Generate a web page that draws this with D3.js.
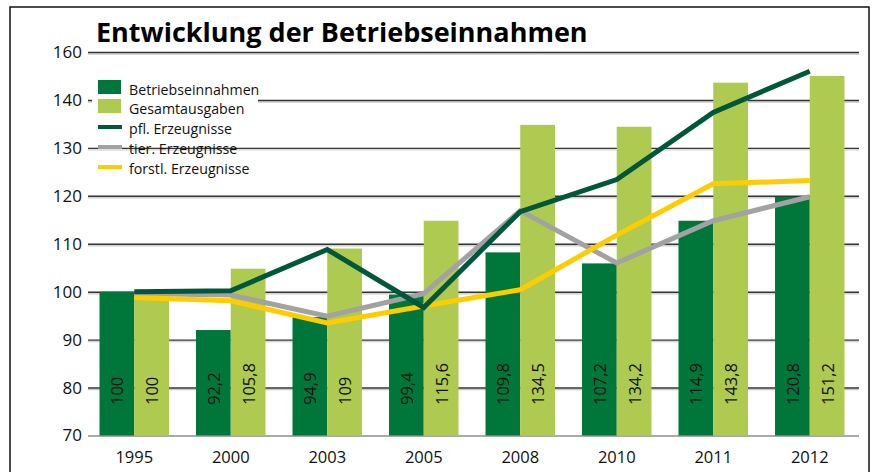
<!DOCTYPE html>
<html>
<head>
<meta charset="utf-8">
<script src="https://cdn.jsdelivr.net/npm/d3@7"></script>
<style>
  body { margin: 0; background: #fff; }
  svg { display: block; font-family: "Open Sans", sans-serif; }
</style>
</head>
<body>
<svg width="874" height="472"></svg>
<script>
// years on the x axis
var years = ['1995', '2000', '2003', '2005', '2008', '2010', '2011', '2012'];

// bar heights as drawn in the picture
var betriebseinnahmen = [100, 92, 94.7, 99.4, 108.2, 105.9, 114.8, 119.8];
var gesamtausgaben = [100, 104.8, 109, 114.8, 134.8, 134.4, 143.6, 145];

// printed labels inside the bars
var labelsEin = ['100', '92,2', '94,9', '99,4', '109,8', '107,2', '114,9', '120,8'];
var labelsAus = ['100', '105,8', '109', '115,6', '134,5', '134,2', '143,8', '151,2'];

// line series
var pflErzeugnisse = [100, 100.2, 108.8, 96.7, 116.7, 123.4, 137.4, 146];
var tierErzeugnisse = [99.6, 99.3, 94.9, 99.6, 116.9, 106, 114.8, 119.8];
var forstlErzeugnisse = [98.8, 98.1, 93.5, 97, 100.4, 111.8, 122.5, 123.2];

// y axis ticks (top label reads 160 in the original)
var yTicks = [70, 80, 90, 100, 110, 120, 130, 140, 150];
var yTickLabels = ['70', '80', '90', '100', '110', '120', '130', '140', '160'];

var colors = {
    ein: '#00773a',
    aus: '#afca50',
    pfl: '#00573a',
    tier: '#a2a2a2',
    forstl: '#ffcc00'
};

var svg = d3.select('svg');

// frame
svg.append('rect')
    .attr('x', 10).attr('y', 7)
    .attr('width', 859).attr('height', 500)
    .attr('fill', 'none')
    .attr('stroke', '#111')
    .attr('stroke-width', 1.5);

var xScale = d3.scaleBand()
    .domain(years)
    .range([86, 858])
    .paddingInner(0.28)
    .paddingOuter(0.14);

var subScale = d3.scaleBand()
    .domain(['ein', 'aus'])
    .range([0, xScale.bandwidth()]);

var yScale = d3.scaleLinear()
    .domain([70, 150])
    .range([435.5, 52]);

var gridLeft = 88, gridRight = 859;

// y axis with gridlines
var yAxis = svg.append('g')
    .attr('transform', 'translate(' + gridLeft + ',0)')
    .call(d3.axisLeft(yScale)
        .tickValues(yTicks)
        .tickFormat(function(d, i) { return yTickLabels[i]; })
        .tickSize(-(gridRight - gridLeft))
        .tickPadding(6));

yAxis.select('.domain').remove();
yAxis.selectAll('.tick text')
    .attr('font-size', 17)
    .attr('fill', '#111')
    .attr('font-family', '"Open Sans", sans-serif');
yAxis.selectAll('.tick line')
    .attr('stroke', function(d) { return d === 70 ? '#8c8c8c' : '#333'; })
    .attr('stroke-width', 1.4);
// light shadow under each gridline
yAxis.selectAll('.tick').filter(function(d) { return d !== 70; })
    .insert('line', 'line')
    .attr('x1', 0).attr('x2', gridRight - gridLeft)
    .attr('y1', 1.6).attr('y2', 1.6)
    .attr('stroke', '#c8c8c8')
    .attr('stroke-width', 1.2);

// title
svg.append('text')
    .attr('x', 96).attr('y', 42)
    .attr('font-size', 27)
    .attr('font-weight', 'bold')
    .attr('fill', '#000')
    .text('Entwicklung der Betriebseinnahmen');

// legend (white background hides part of the grid)
var legendG = svg.append('g');
legendG.append('rect')
    .attr('x', 92).attr('y', 76)
    .attr('width', 166).attr('height', 68)
    .attr('fill', '#fff');

var legendItems = [
    {name: 'Betriebseinnahmen', type: 'rect', color: colors.ein},
    {name: 'Gesamtausgaben', type: 'rect', color: colors.aus},
    {name: 'pfl. Erzeugnisse', type: 'line', color: colors.pfl},
    {name: 'tier. Erzeugnisse', type: 'line', color: colors.tier},
    {name: 'forstl. Erzeugnisse', type: 'line', color: colors.forstl}
];

var rowY = [87, 106, 127, 147, 167];
legendItems.forEach(function(item, i) {
    if (item.type === 'rect') {
        legendG.append('rect')
            .attr('x', 98).attr('y', rowY[i] - 7)
            .attr('width', 23).attr('height', 14)
            .attr('fill', item.color);
    } else {
        legendG.append('line')
            .attr('x1', 98).attr('x2', 122)
            .attr('y1', rowY[i]).attr('y2', rowY[i])
            .attr('stroke', item.color)
            .attr('stroke-width', 4);
    }
    legendG.append('text')
        .attr('x', 129).attr('y', rowY[i] + 8 - (i < 2 ? 0 : 1))
        .attr('font-size', 14.2)
        .attr('fill', '#111')
        .text(item.name);
});

// bars
var barData = years.map(function(yr, i) {
    return [
        {year: yr, key: 'ein', value: betriebseinnahmen[i], label: labelsEin[i]},
        {year: yr, key: 'aus', value: gesamtausgaben[i], label: labelsAus[i]}
    ];
});

var groups = svg.append('g').selectAll('g')
    .data(barData)
    .enter().append('g')
    .attr('transform', function(d) { return 'translate(' + xScale(d[0].year) + ',0)'; });

groups.selectAll('rect')
    .data(function(d) { return d; })
    .enter().append('rect')
    .attr('x', function(d) { return subScale(d.key); })
    .attr('width', subScale.bandwidth())
    .attr('y', function(d) { return yScale(d.value); })
    .attr('height', function(d) { return yScale(70) - yScale(d.value); })
    .attr('fill', function(d) { return colors[d.key]; });

groups.selectAll('text')
    .data(function(d) { return d; })
    .enter().append('text')
    .attr('transform', function(d) {
        return 'translate(' + (subScale(d.key) + subScale.bandwidth() / 2) + ',405) rotate(-90)';
    })
    .attr('dy', '0.4em')
    .attr('font-size', 16.5)
    .attr('font-weight', 500)
    .attr('fill', '#111')
    .text(function(d) { return d.label; });

// lines
var lineGen = d3.line()
    .x(function(d, i) { return xScale(years[i]) + xScale.bandwidth() / 2; })
    .y(function(d) { return yScale(d); });

[[tierErzeugnisse, colors.tier], [forstlErzeugnisse, colors.forstl], [pflErzeugnisse, colors.pfl]]
    .forEach(function(s) {
        svg.append('path')
            .datum(s[0])
            .attr('d', lineGen)
            .attr('fill', 'none')
            .attr('stroke', s[1])
            .attr('stroke-width', 5)
            .attr('stroke-linejoin', 'miter');
    });

// x axis labels
var xAxis = svg.append('g')
    .attr('transform', 'translate(0,' + yScale(70) + ')')
    .call(d3.axisBottom(xScale).tickSize(0).tickPadding(16));
xAxis.select('.domain').remove();
xAxis.selectAll('text')
    .attr('font-size', 16.5)
    .attr('fill', '#111')
    .attr('font-family', '"Open Sans", sans-serif');
</script>
</body>
</html>
